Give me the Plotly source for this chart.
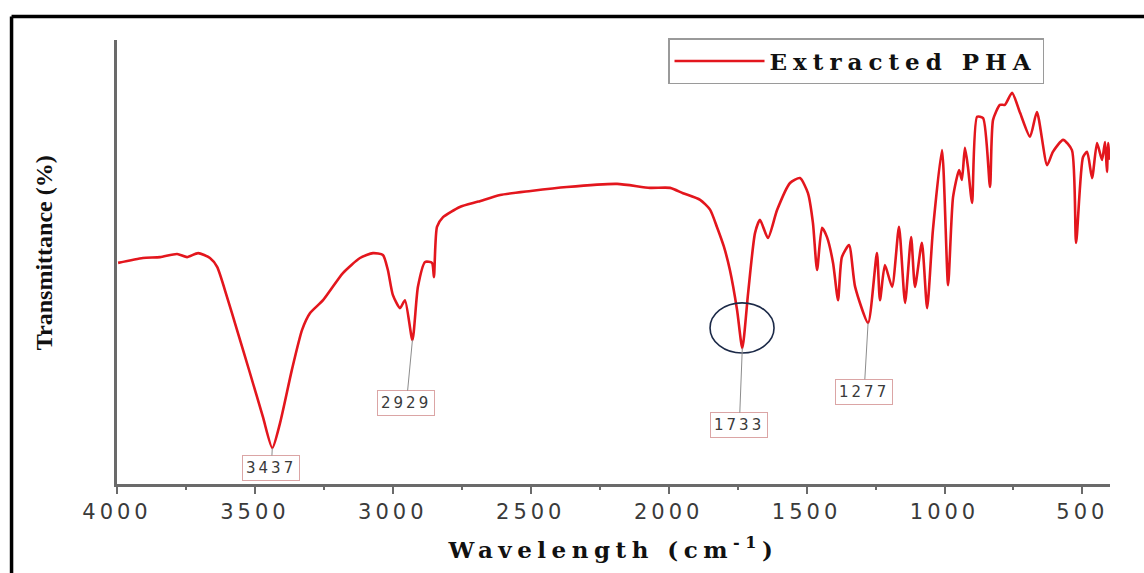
import plotly.graph_objects as go

# FTIR spectrum of the extracted PHA (wavenumber in cm^-1, transmittance in arbitrary %)
wavenumber = [
    3996, 3906, 3844, 3782, 3746, 3706, 3663, 3637, 3601, 3565, 3518, 3471, 3437,
    3409, 3366, 3329, 3300, 3253, 3181, 3119, 3072, 3036, 3018, 3000, 2974, 2956,
    2929, 2909, 2883, 2858, 2851, 2840, 2818, 2757, 2690, 2611, 2500, 2369, 2187,
    2068, 1995, 1948, 1886, 1850, 1825, 1800, 1778, 1752, 1733, 1712, 1687, 1669,
    1640, 1607, 1560, 1524, 1495, 1477, 1462, 1444, 1426, 1404, 1386, 1372, 1346,
    1324, 1277, 1245, 1234, 1216, 1190, 1165, 1143, 1121, 1107, 1082, 1063, 1042,
    1009, 987, 969, 947, 937, 926, 915, 900, 882, 860, 835, 824, 799, 781, 755,
    726, 690, 665, 628, 607, 570, 538, 523, 498, 483, 465, 447, 429, 418, 411,
    407, 402,
]
transmittance = [
    49.8, 50.9, 51.1, 51.8, 51.1, 52.0, 50.9, 48.9, 42.1, 34.7, 25.0, 15.1, 8.1,
    13.7, 25.7, 34.7, 38.5, 41.4, 47.5, 50.9, 52.0, 51.6, 48.2, 42.6, 39.6, 41.4,
    32.4, 44.4, 50.0, 49.8, 46.6, 57.9, 60.1, 62.4, 63.6, 65.1, 66.0, 66.9, 67.6,
    66.7, 66.7, 65.5, 64.0, 61.8, 57.9, 53.5, 48.2, 39.2, 30.6, 43.0, 56.5, 59.5,
    55.4, 61.7, 67.8, 68.9, 65.5, 58.8, 48.2, 57.7, 55.6, 49.8, 41.4, 51.1, 53.8,
    44.4, 36.3, 52.0, 41.4, 49.3, 44.4, 57.9, 40.8, 55.6, 44.4, 54.3, 39.6, 57.2,
    75.2, 44.8, 64.6, 70.7, 68.5, 75.7, 71.4, 63.3, 82.7, 82.4, 66.9, 82.0, 85.4,
    85.4, 88.1, 83.6, 78.2, 83.8, 71.8, 74.8, 77.5, 75.2, 54.3, 73.6, 74.8, 68.9,
    76.8, 73.0, 77.0, 70.3, 76.8, 73.0,
]

# labelled absorption bands
peak_labels = [3437, 2929, 1733, 1277]

tick_values = [4000, 3500, 3000, 2500, 2000, 1500, 1000, 500]
tick_labels = ["4000", "3500", "3000", "2500", "2000", "1500", "1000", "500"]

series_name = "Extracted PHA"

SERIF = "Liberation Serif, Times New Roman, serif"
WIDE_SERIF = "DejaVu Serif, Liberation Serif, serif"
SANS = "DejaVu Sans, Arial, sans-serif"
RED = "#e3161d"
AXIS_GREY = "#6a6a6a"


def spaced(text, px):
    return f"<span style='letter-spacing:{px}px'>{text}</span>"


fig = go.Figure()
fig.add_trace(go.Scatter(
    x=wavenumber, y=transmittance, mode="lines", name=spaced(f"<b>{series_name}</b>", 6),
    line=dict(color=RED, width=2.6, shape="spline", smoothing=0.6),
))

# label boxes: pixel offsets of each box from its band minimum
label_offsets = {3437: (-1, 20), 2929: (-6, 63), 1733: (-3, 77), 1277: (-4, 69)}
for wn in peak_labels:
    t = transmittance[wavenumber.index(wn)]
    ax, ay = label_offsets[wn]
    fig.add_annotation(
        x=wn, y=t, xref="x", yref="y", text=spaced(str(wn), 3),
        showarrow=True, arrowhead=0, arrowwidth=1, arrowcolor="#8c8c8c",
        ax=ax, ay=ay, standoff=0, startstandoff=0,
        font=dict(family=SANS, size=15, color="#3a3a3a"),
        bgcolor="white", bordercolor="#dba5a5", borderwidth=1, borderpad=3,
    )

# ring marking the carbonyl band
fig.add_shape(type="circle", xref="x", yref="y", x0=1850, x1=1618, y0=29.5, y1=40.8,
              line=dict(color="#1c2a48", width=1.6))

# outer frame
fig.add_shape(type="line", xref="paper", yref="paper", x0=-0.1062, x1=-0.1062, y0=-0.3, y1=1.0529,
              line=dict(color="black", width=3.5))
fig.add_shape(type="line", xref="paper", yref="paper", x0=-0.1062, x1=1.1, y0=1.0529, y1=1.0529,
              line=dict(color="black", width=3.5))

# y-axis title
fig.add_annotation(
    xref="paper", yref="paper", x=-0.0735, y=0.52, xanchor="center", yanchor="middle",
    textangle=-90, showarrow=False,
    text="<b>Transmittance (%)</b>", font=dict(family=SERIF, size=24, color="#111"),
)

fig.update_layout(
    width=1144, height=573, autosize=False,
    margin=dict(l=117, r=34, t=40, b=89),
    paper_bgcolor="white", plot_bgcolor="white",
    showlegend=True,
    legend=dict(
        x=0.5549, y=1.0045, xanchor="left", yanchor="top",
        bordercolor="#9a9a9a", borderwidth=1.5, bgcolor="white",
        font=dict(family=WIDE_SERIF, size=23, color="#111"),
        itemwidth=90, tracegroupgap=0,
    ),
    xaxis=dict(
        range=[4000, 400], showgrid=False, zeroline=False,
        showline=True, linecolor=AXIS_GREY, linewidth=2.5,
        tickmode="array", tickvals=tick_values,
        ticktext=[spaced(t, 4) for t in tick_labels],
        ticks="outside", ticklen=7, tickwidth=2, tickcolor=AXIS_GREY,
        tickfont=dict(family=SANS, size=21, color="#3a3a3a"),
        minor=dict(dtick=250, tick0=0, ticks="outside", ticklen=3, tickwidth=2, tickcolor=AXIS_GREY),
        title=dict(text=spaced("<b>Wavelength (cm<sup>-1</sup>)</b>", 5.5),
                   font=dict(family=WIDE_SERIF, size=23, color="#111"), standoff=19),
    ),
    yaxis=dict(
        range=[0, 100], showgrid=False, zeroline=False,
        showline=True, linecolor=AXIS_GREY, linewidth=2.5,
        showticklabels=False, ticks="",
    ),
)

fig.write_html("out.html")
